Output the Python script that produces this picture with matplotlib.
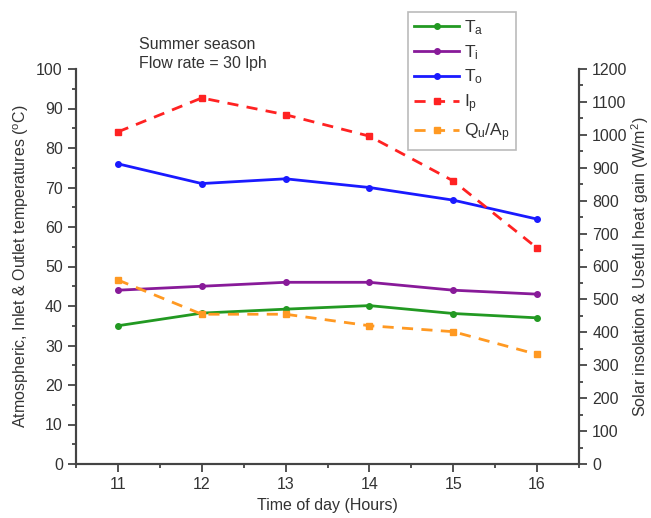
import matplotlib
matplotlib.use('Agg')
import matplotlib.pyplot as plt
from matplotlib.ticker import MultipleLocator

plt.rcParams['font.family'] = ['Liberation Sans', 'DejaVu Sans']
plt.rcParams['mathtext.fontset'] = 'custom'
plt.rcParams['mathtext.rm'] = 'Liberation Sans'
plt.rcParams['mathtext.it'] = 'Liberation Sans'

hours = [11, 12, 13, 14, 15, 16]
t_a = [35, 38.2, 39.2, 40.1, 38.1, 37]
t_i = [44, 45, 46, 46, 44, 43]
t_o = [76, 71, 72.2, 70, 66.8, 62]
i_p = [1009, 1112, 1061, 996, 860, 656]
q_ap = [559, 455, 455, 420, 402, 333]

TXT = '#333333'

fig = plt.figure(figsize=(6.51, 5.18), dpi=100)
ax = fig.add_axes([76 / 651, 1 - 464 / 518, (579 - 76) / 651, (464 - 69) / 518])
ax2 = ax.twinx()

l1, = ax.plot(hours, t_a, color='#229922', lw=2, marker='o', ms=4, label='T$_a$')
l2, = ax.plot(hours, t_i, color='#881a99', lw=2, marker='o', ms=4, label='T$_i$')
l3, = ax.plot(hours, t_o, color='#1a1aff', lw=2, marker='o', ms=4, label='T$_o$')
l4, = ax2.plot(hours, i_p, color='#ff2222', lw=2, ls=(0, (4, 3)), marker='s', ms=5, label='I$_p$')
l5, = ax2.plot(hours, q_ap, color='#ff9922', lw=2, ls=(0, (4, 3)), marker='s', ms=5, label='Q$_u$/A$_p$')

ax.set_xlim(10.5, 16.5)
ax.set_ylim(0, 100)
ax2.set_ylim(0, 1200)
ax.xaxis.set_major_locator(MultipleLocator(1))
ax.xaxis.set_minor_locator(MultipleLocator(0.5))
ax.yaxis.set_major_locator(MultipleLocator(10))
ax.yaxis.set_minor_locator(MultipleLocator(5))
ax2.yaxis.set_major_locator(MultipleLocator(100))
ax2.yaxis.set_minor_locator(MultipleLocator(50))

for a in (ax, ax2):
    a.spines['top'].set_visible(False)
    for s in a.spines.values():
        s.set_linewidth(1.5)
        s.set_color('#444444')
    a.tick_params(which='major', direction='out', length=6, width=1.3, colors='#444444',
                  labelcolor=TXT, labelsize=11.5)
    a.tick_params(which='minor', direction='out', length=3, width=1.3, colors='#444444')

ax.set_xlabel('Time of day (Hours)', fontsize=11.5, color=TXT, labelpad=4)
ax.set_ylabel('Atmospheric, Inlet & Outlet temperatures ($^o$C)', fontsize=11.5, color=TXT, labelpad=4)
ax2.set_ylabel('Solar insolation & Useful heat gain (W/m$^2$)', fontsize=11.5, color=TXT, labelpad=1)

fig.text(139 / 651, 1 - 37 / 518, 'Summer season\nFlow rate = 30 lph', fontsize=11.5,
         color=TXT, va='top', ha='left', linespacing=1.3)

leg = fig.legend(handles=[l1, l2, l3, l4, l5], loc='upper left',
                 bbox_to_anchor=(408 / 651, 1 - 12 / 518), borderaxespad=0, fontsize=12.5,
                 frameon=True, fancybox=False, handlelength=2.6, handletextpad=0.3,
                 labelspacing=0.35, borderpad=0.35)
leg.get_frame().set_edgecolor('#aaaaaa')
leg.get_frame().set_linewidth(1.2)
for t in leg.get_texts():
    t.set_color(TXT)

fig.savefig('out.png', dpi=100)
